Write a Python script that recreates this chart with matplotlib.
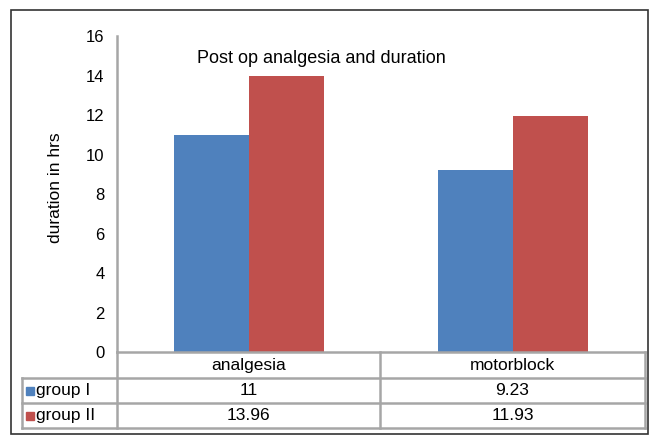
import numpy as np
import matplotlib.pyplot as plt
from matplotlib.patches import Rectangle

plt.rcParams['font.family'] = ['Liberation Sans', 'DejaVu Sans']

# data
categories = ["analgesia", "motorblock"]
series_names = ["group I", "group II"]
group1 = [11, 9.23]
group2 = [13.96, 11.93]
table_labels = [["11", "9.23"], ["13.96", "11.93"]]
colors = ["#4F81BD", "#C0504D"]
grid_col = "#A6A6A6"

W, H = 657, 436
fig = plt.figure(figsize=(W / 100, H / 100), dpi=100)
fig.patch.set_facecolor("white")


def fx(x):
    return x / W


def fy(y):
    return 1 - y / H


# plot area in pixel coords
L, R, T, B = 117, 645, 36, 352
ax = fig.add_axes([fx(L), fy(B), fx(R) - fx(L), fy(T) - fy(B)])

x = np.arange(len(categories))
bw = 0.285
ax.bar(x - bw / 2, group1, width=bw, color=colors[0])
ax.bar(x + bw / 2, group2, width=bw, color=colors[1])
ax.set_xlim(-0.5, 1.5)
ax.set_ylim(0, 16)
ax.set_yticks(np.arange(0, 17, 2))
ax.set_xticks([])
ax.tick_params(axis="y", length=0, labelsize=12, pad=9, colors="#000000")
for s in ["top", "right", "bottom"]:
    ax.spines[s].set_visible(False)
ax.spines["left"].set_color(grid_col)
ax.spines["left"].set_linewidth(1.8)
ax.set_ylabel("duration in hrs", fontsize=12.5)
ax.yaxis.set_label_coords(-0.102, 0.52)
ax.text(0.152, 0.93, "Post op analgesia and duration", transform=ax.transAxes,
        fontsize=13, ha="left", va="center")

# data table below the plot
rows_y = [352, 378, 403, 428]
col_x = [22, 117, 380, 645]
lkw = dict(color=grid_col, lw=1.8, transform=fig.transFigure)
fig.add_artist(plt.Line2D([fx(L), fx(R)], [fy(352), fy(352)], **lkw))
for yy in rows_y[1:]:
    fig.add_artist(plt.Line2D([fx(col_x[0]), fx(col_x[-1])], [fy(yy), fy(yy)], **lkw))
fig.add_artist(plt.Line2D([fx(col_x[0])] * 2, [fy(378), fy(428)], **lkw))
for xx in col_x[1:]:
    fig.add_artist(plt.Line2D([fx(xx)] * 2, [fy(352), fy(428)], **lkw))

fs_tab = 12.5
for j, cat in enumerate(categories):
    cx = (col_x[j + 1] + col_x[j + 2]) / 2
    fig.text(fx(cx), fy((rows_y[0] + rows_y[1]) / 2), cat, ha="center", va="center", fontsize=fs_tab)
for i, name in enumerate(series_names):
    cy = (rows_y[i + 1] + rows_y[i + 2]) / 2
    fig.add_artist(Rectangle((fx(26), fy(cy + 4)), fx(8), 8 / H, color=colors[i],
                             transform=fig.transFigure))
    fig.text(fx(36), fy(cy), name, ha="left", va="center", fontsize=fs_tab)
    for j in range(len(categories)):
        cx = (col_x[j + 1] + col_x[j + 2]) / 2
        fig.text(fx(cx), fy(cy), table_labels[i][j], ha="center", va="center", fontsize=fs_tab)

# outer frame
fig.add_artist(Rectangle((fx(11), fy(434)), fx(648) - fx(11), fy(10) - fy(434),
                         fill=False, edgecolor="#333333", lw=1.2, transform=fig.transFigure))

fig.savefig("out.png", dpi=100, facecolor="white")
